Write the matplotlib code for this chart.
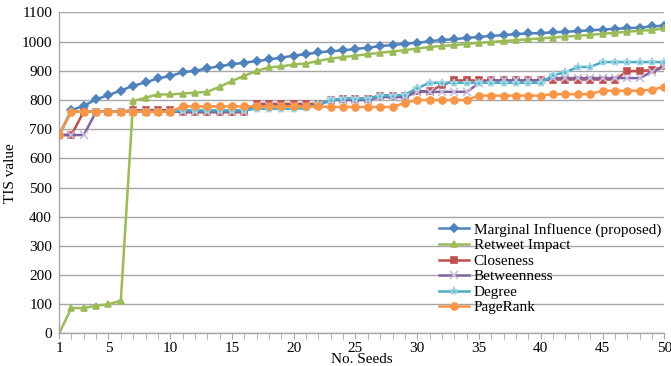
import matplotlib.pyplot as plt
import numpy as np

seeds = np.arange(1, 51)

marginal = [680, 765, 780, 802, 817, 832, 849, 860, 874, 882,
            895, 900, 908, 916, 922, 928, 933, 939, 945, 952,
            957, 963, 967, 970, 975, 979, 985, 988, 993, 996,
            1001, 1006, 1008, 1013, 1016, 1020, 1022, 1026, 1028, 1029,
            1032, 1034, 1036, 1039, 1041, 1044, 1046, 1048, 1052, 1055]
retweet = [0, 87, 87, 95, 100, 112, 796, 808, 819, 819,
           822, 825, 828, 845, 865, 883, 900, 912, 915, 922,
           925, 934, 942, 947, 952, 957, 962, 966, 971, 976,
           982, 985, 988, 992, 996, 999, 1002, 1005, 1008, 1011,
           1014, 1017, 1020, 1023, 1027, 1030, 1034, 1037, 1040, 1045]
closeness = [680, 680, 760, 760, 760, 760, 765, 765, 765, 765,
             758, 758, 758, 758, 758, 758, 787, 787, 787, 787,
             787, 787, 800, 805, 805, 805, 815, 815, 815, 830,
             830, 850, 867, 867, 867, 867, 867, 867, 867, 867,
             870, 870, 870, 870, 870, 870, 898, 900, 902, 915]
betweenness = [680, 680, 680, 760, 760, 760, 760, 760, 760, 760,
               760, 760, 760, 760, 760, 760, 780, 780, 780, 780,
               780, 782, 800, 800, 800, 800, 810, 810, 810, 828,
               828, 828, 828, 828, 857, 867, 867, 867, 867, 867,
               875, 875, 875, 875, 875, 875, 875, 875, 897, 913]
degree = [680, 760, 760, 760, 760, 760, 760, 760, 760, 760,
          765, 765, 765, 765, 765, 765, 770, 770, 770, 770,
          772, 785, 800, 805, 805, 805, 815, 815, 818, 840,
          859, 859, 859, 859, 859, 859, 859, 859, 859, 859,
          885, 895, 913, 913, 930, 930, 930, 930, 930, 930]
pagerank = [680, 760, 760, 760, 760, 760, 760, 760, 760, 760,
            778, 778, 778, 778, 778, 778, 778, 778, 778, 778,
            778, 778, 776, 776, 776, 776, 776, 776, 790, 800,
            800, 800, 800, 800, 815, 815, 815, 815, 815, 815,
            820, 820, 820, 820, 832, 832, 832, 832, 835, 845]

series = [
    ("Marginal Influence (proposed)", marginal, "#4F81BD", "D", 4),
    ("Retweet Impact", retweet, "#9BBB59", "^", 5),
    ("Closeness", closeness, "#C0504D", "s", 5),
    ("Betweenness", betweenness, "#8064A2", "x", 6),
    ("Degree", degree, "#4BACC6", "*", 6),
    ("PageRank", pagerank, "#F79646", "o", 5),
]

plt.rcParams['font.family'] = ['Liberation Serif', 'DejaVu Serif']
fs = 11

fig = plt.figure(figsize=(6.71, 3.66), dpi=100)
ax = fig.add_axes([0.088, 0.089, 0.902, 0.877])

for name, vals, col, mk, ms in series:
    mec = col
    if mk == "x":
        mec = "#C9BEDB"
    elif mk == "*":
        mec = "#9FD4E3"
    ax.plot(seeds, vals, color=col, lw=1.8, marker=mk, ms=ms,
            mec=mec, mfc=col, mew=1.2, label=name)

ax.set_xlim(1, 50)
ax.set_ylim(0, 1100)
ax.set_yticks(np.arange(0, 1101, 100))
ax.set_xticks([1, 5, 10, 15, 20, 25, 30, 35, 40, 45, 50])
ax.set_xticks(seeds, minor=True)
ax.tick_params(axis='y', length=0, labelsize=fs, pad=5)
ax.tick_params(axis='x', which='both', direction='out', length=4,
               color='#A6A6A6', labelsize=fs, pad=2)
ax.grid(axis='y', color='#A6A6A6', lw=1)
ax.set_axisbelow(True)
for s in ['top', 'right']:
    ax.spines[s].set_visible(False)
for s in ['left', 'bottom']:
    ax.spines[s].set_color('#A6A6A6')
    ax.spines[s].set_linewidth(1)

ax.set_ylabel("TIS value", fontsize=fs, labelpad=3)
ax.set_xlabel("No. Seeds", fontsize=fs, labelpad=-1.5)

ax.legend(loc='lower right', bbox_to_anchor=(1.005, 0.04), frameon=False,
          fontsize=fs, handlelength=2.0, handletextpad=0.3,
          labelspacing=0.12, borderaxespad=0)

fig.savefig("out.png", dpi=100)
